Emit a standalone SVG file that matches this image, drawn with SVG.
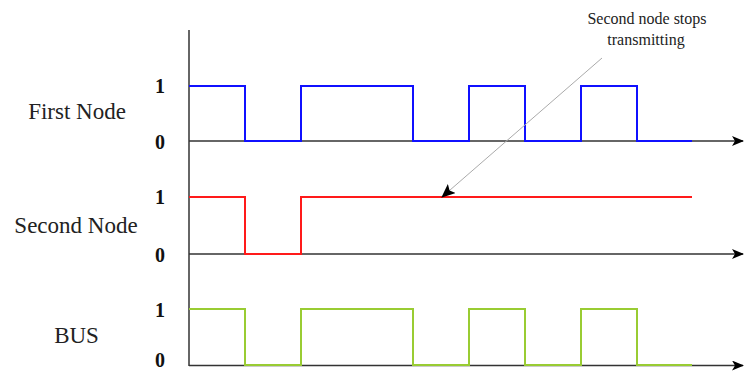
<svg xmlns="http://www.w3.org/2000/svg" width="744" height="372" viewBox="0 0 744 372">
<defs>
<marker id="axarrow" markerWidth="12" markerHeight="10" refX="11" refY="5" orient="auto" markerUnits="userSpaceOnUse">
<path d="M0,0 L12,5 L0,10 L3,5 Z" fill="#000"/>
</marker>
<marker id="callout" markerWidth="14" markerHeight="12" refX="13" refY="6" orient="auto" markerUnits="userSpaceOnUse">
<path d="M0,0 L14,6 L0,12 L3,6 Z" fill="#000"/>
</marker>
</defs>
<style>
.axis{stroke:#333;stroke-width:1.5;fill:none}
.sig{fill:none;stroke-width:2}
.lbl{font-family:"Liberation Serif","Times New Roman",serif;font-size:23px;fill:#222;text-anchor:middle}
.lvl{font-family:"Liberation Serif","Times New Roman",serif;font-size:20px;font-weight:bold;fill:#111;text-anchor:middle}
.note{font-family:"Liberation Serif","Times New Roman",serif;font-size:16px;fill:#222;text-anchor:middle}
</style>
<rect width="744" height="372" fill="#fff"/>
<g id="axes">
<line class="axis" x1="189" y1="30" x2="189" y2="366"/>
<line class="axis" x1="189" y1="141" x2="743" y2="141" marker-end="url(#axarrow)"/>
<line class="axis" x1="189" y1="254" x2="743" y2="254" marker-end="url(#axarrow)"/>
<line class="axis" x1="189" y1="365.5" x2="743" y2="365.5" marker-end="url(#axarrow)"/>
</g>
<g id="first-node">
<text class="lbl" x="77" y="119">First Node</text>
<text class="lvl" x="160" y="93">1</text>
<text class="lvl" x="160" y="149">0</text>
<path class="sig" stroke="#1010ff" d="M189,86 H245 V141 H301 V86 H413 V141 H469 V86 H525 V141 H581 V86 H637 V141 H692"/>
</g>
<g id="second-node">
<text class="lbl" x="76" y="233">Second Node</text>
<text class="lvl" x="160" y="204">1</text>
<text class="lvl" x="160" y="262">0</text>
<path class="sig" stroke="#ff1a1a" d="M189,197 H245 V254 H301 V197 H692"/>
</g>
<g id="bus">
<text class="lbl" x="76.5" y="343">BUS</text>
<text class="lvl" x="160" y="317">1</text>
<text class="lvl" x="160" y="367">0</text>
<path class="sig" stroke="#99cc33" d="M189,309 H245 V365 H301 V309 H413 V365 H469 V309 H525 V365 H581 V309 H637 V365 H692"/>
</g>
<g id="annotation">
<text class="note" x="647" y="24">Second node stops</text>
<text class="note" x="646" y="45">transmitting</text>
</g>
<g id="connectors">
<line x1="602" y1="58" x2="442" y2="197" stroke="#aaa" stroke-width="1" marker-end="url(#callout)"/>
</g>
</svg>
